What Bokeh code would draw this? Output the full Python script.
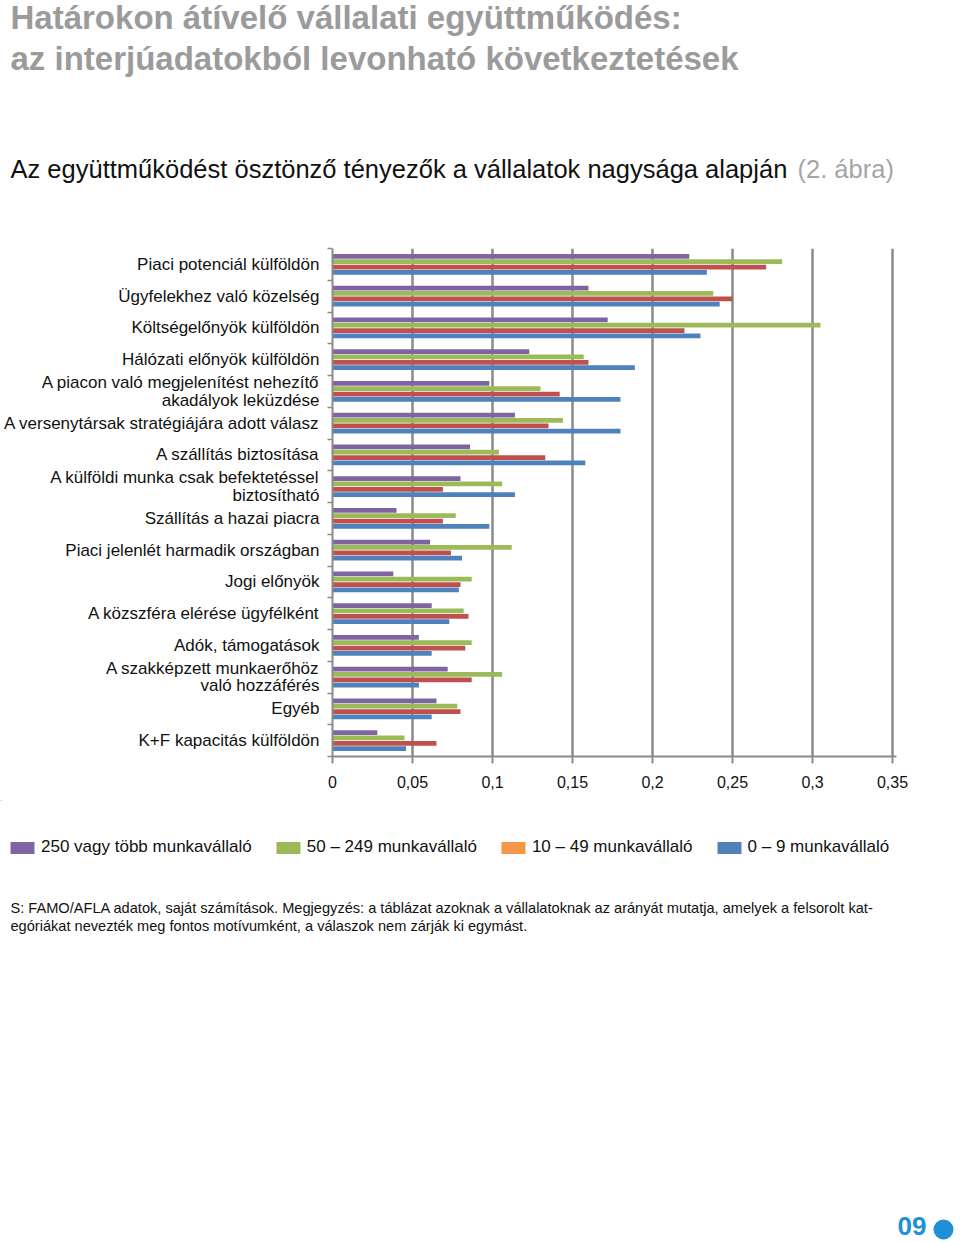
from bokeh.plotting import figure
from bokeh.layouts import column
from bokeh.models import (Legend, LegendItem, FixedTicker,
                          CustomJSTickFormatter, ColumnDataSource, Range1d)
from bokeh.core.properties import value
from bokeh.embed import file_html
from bokeh.resources import INLINE

# ---------------- data ----------------
categories = [
    "Piaci potenciál külföldön",
    "Ügyfelekhez való közelség",
    "Költségelőnyök külföldön",
    "Hálózati előnyök külföldön",
    "A piacon való megjelenítést nehezítő\nakadályok leküzdése",
    "A versenytársak stratégiájára adott válasz",
    "A szállítás biztosítása",
    "A külföldi munka csak befektetéssel\nbiztosítható",
    "Szállítás a hazai piacra",
    "Piaci jelenlét harmadik országban",
    "Jogi előnyök",
    "A közszféra elérése ügyfélként",
    "Adók, támogatások",
    "A szakképzett munkaerőhöz\nvaló hozzáférés",
    "Egyéb",
    "K+F kapacitás külföldön",
]
large_250 = [0.223, 0.160, 0.172, 0.123, 0.098, 0.114, 0.086, 0.080,
             0.040, 0.061, 0.038, 0.062, 0.054, 0.072, 0.065, 0.028]
medium_50_249 = [0.281, 0.238, 0.305, 0.157, 0.130, 0.144, 0.104, 0.106,
                 0.077, 0.112, 0.087, 0.082, 0.087, 0.106, 0.078, 0.045]
small_10_49 = [0.271, 0.250, 0.220, 0.160, 0.142, 0.135, 0.133, 0.069,
               0.069, 0.074, 0.080, 0.085, 0.083, 0.087, 0.080, 0.065]
micro_0_9 = [0.234, 0.242, 0.230, 0.189, 0.180, 0.180, 0.158, 0.114,
             0.098, 0.081, 0.079, 0.073, 0.062, 0.054, 0.062, 0.046]
series_labels = ["250 vagy több munkavállaló", "50 – 249 munkavállaló",
                 "10 – 49 munkavállaló", "0 – 9 munkavállaló"]
x_ticks = [0, 0.05, 0.1, 0.15, 0.2, 0.25, 0.3, 0.35]

title_1 = "Határokon átívelő vállalati együttműködés:"
title_2 = "az interjúadatokból levonható következtetések"
subtitle = "Az együttműködést ösztönző tényezők a vállalatok nagysága alapján"
subtitle_ref = "(2. ábra)"
note_1 = ("S: FAMO/AFLA adatok, saját számítások. Megjegyzés: a táblázat azoknak a "
          "vállalatoknak az arányát mutatja, amelyek a felsorolt kat-")
note_2 = "egóriákat nevezték meg fontos motívumként, a válaszok nem zárják ki egymást."
page_no = "09"

# ---------------- styling ----------------
FONT = "Liberation Sans"
bar_colors = ["#8064A2", "#9BBB59", "#C0504D", "#4F81BD"]
legend_colors = ["#8064A2", "#9BBB59", "#F79646", "#4F81BD"]
offsets = [0.25, 0.083, -0.083, -0.25]
W = 960


def blank_fig(h, y_top):
    f = figure(width=W, height=h, x_range=Range1d(0, W),
               y_range=Range1d(y_top + h, y_top), min_border=0,
               x_axis_type=None, y_axis_type=None, outline_line_color=None,
               toolbar_location=None, output_backend="svg",
               background_fill_color="white", border_fill_color="white",
               frame_align=False)
    f.grid.visible = False
    return f


def txt(f, s, x, y, size, color, style="normal", align="left"):
    f.text(x=[x], y=[y], text=[s], text_font=value(FONT), text_font_size=size,
           text_color=color, text_font_style=style, text_align=align,
           text_baseline="alphabetic")


# ---------------- header ----------------
HEAD_H = 240
head = blank_fig(HEAD_H, 0)
txt(head, title_1, 10, 17, "33px", "#9b9b9b", "bold")
txt(head, title_2, 10, 58, "33px", "#9b9b9b", "bold")
txt(head, subtitle, 10, 168, "25.5px", "#111111")
txt(head, subtitle_ref, 797, 168, "25.5px", "#a6a6a6")

# ---------------- main chart ----------------
n = len(categories)
centers = [n - i - 0.5 for i in range(n)]

MAIN_H = 560
p = figure(width=W, height=MAIN_H, x_range=Range1d(0, 0.3525),
           y_range=Range1d(0, n), output_backend="svg", toolbar_location=None,
           min_border_left=332, min_border_right=64, min_border_top=8,
           min_border_bottom=44, outline_line_color=None,
           background_fill_color="white", border_fill_color="white",
           frame_align=False)

for vals, col, off in zip([large_250, medium_50_249, small_10_49, micro_0_9],
                          bar_colors, offsets):
    src = ColumnDataSource(dict(y=[c + off for c in centers], right=vals))
    p.hbar(y="y", left=0, right="right", height=0.15, source=src,
           fill_color=col, line_color=None)

xt = FixedTicker(ticks=x_ticks)
p.xaxis.ticker = xt
p.xaxis.formatter = CustomJSTickFormatter(code="""
    let s = tick.toFixed(2).replace(/0+$/, '').replace(/\\.$/, '');
    return s.replace('.', ',');
""")
p.xaxis.axis_line_color = "#8a8a8a"
p.xaxis.axis_line_width = 2
p.xaxis.major_tick_line_color = "#8a8a8a"
p.xaxis.major_tick_line_width = 2
p.xaxis.major_tick_out = 7
p.xaxis.major_tick_in = 0
p.xaxis.minor_tick_line_color = None
p.xaxis.major_label_standoff = 12
p.xaxis.major_label_text_font = FONT
p.xaxis.major_label_text_font_size = "16px"
p.xaxis.major_label_text_color = "#111111"

p.xgrid.ticker = xt
p.xgrid.grid_line_color = "#8a8a8a"
p.xgrid.grid_line_width = 2.5
p.ygrid.grid_line_color = None

yt = FixedTicker(ticks=centers, minor_ticks=list(range(0, n + 1)))
p.yaxis.ticker = yt
p.yaxis.major_label_overrides = {c: lbl for c, lbl in zip(centers, categories)}
p.yaxis.axis_line_color = "#8a8a8a"
p.yaxis.axis_line_width = 2
p.yaxis.major_tick_line_color = None
p.yaxis.major_tick_out = 0
p.yaxis.major_tick_in = 0
p.yaxis.minor_tick_line_color = "#8a8a8a"
p.yaxis.minor_tick_line_width = 1.5
p.yaxis.minor_tick_out = 5
p.yaxis.minor_tick_in = 0
p.yaxis.major_label_standoff = 8
p.yaxis.major_label_text_font = FONT
p.yaxis.major_label_text_font_size = "17px"
p.yaxis.major_label_text_color = "#111111"
p.yaxis.major_label_text_line_height = 0.92

# ---------------- footer ----------------
FOOT_TOP = HEAD_H + MAIN_H
FOOT_H = 441
foot = blank_fig(FOOT_H, FOOT_TOP)

# legend swatches (the original shows an orange swatch for the red series)
dummies = [foot.hbar(y=[-1000], left=[0], right=[1], height=1,
                     fill_color=c, line_color=None) for c in legend_colors]
legend = Legend(items=[LegendItem(label=l, renderers=[r])
                       for l, r in zip(series_labels, dummies)],
                orientation="horizontal", location=(7, FOOT_TOP + FOOT_H - 857),
                padding=0, margin=0, spacing=21, label_standoff=4,
                glyph_width=30, glyph_height=15, label_height=15,
                label_text_font=FONT, label_text_font_size="17px",
                label_text_color="#111111", border_line_color=None,
                background_fill_alpha=0)
foot.add_layout(legend, "center")

txt(foot, note_1, 10, 907, "14.6px", "#111111")
txt(foot, note_2, 10, 925, "14.6px", "#111111")
txt(foot, page_no, 897, 1225, "26px", "#1f8fd6", "bold")
foot.scatter(x=[943], y=[1229], size=20, marker="circle",
             fill_color="#1f8fd6", line_color=None)

layout = column(head, p, foot, spacing=0)
open("out.html", "w").write(file_html(layout, INLINE))
